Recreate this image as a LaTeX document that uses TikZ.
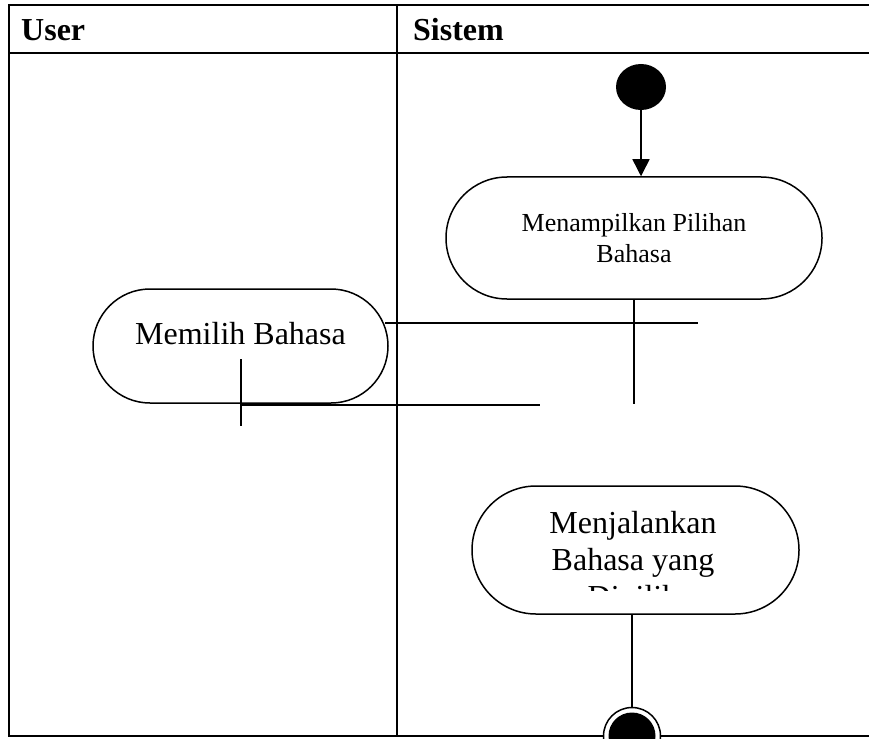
\documentclass[tikz,border=0pt]{standalone}
\usepackage{fontspec}
\setmainfont{Liberation Serif}
\usetikzlibrary{shapes.misc,shapes.geometric,arrows.meta}
\begin{document}
\begin{tikzpicture}[x=1pt,y=-1pt,
  frame/.style={line width=1.5pt},
  flow/.style={line width=1.5pt},
  act/.style={draw, line width=1.5pt, rounded rectangle, inner sep=0pt, align=center},
  hdr/.style={font=\fontsize{32}{36}\selectfont\bfseries, anchor=base west, inner sep=0pt},
  small/.style={font=\fontsize{26}{31}\selectfont},
  big/.style={font=\fontsize{32}{37}\selectfont}]
\clip (0,0) rectangle (869,738);
\fill[white] (0,0) rectangle (869,738);

% swimlane frame
\draw[frame] (880,5) -- (9,5) -- (9,736) -- (880,736);
\draw[frame] (9,53) -- (880,53);
\draw[frame] (397,5) -- (397,736);
\node[hdr] (laneuser) at (21,41) {User};
\node[hdr] (lanesys) at (413,41) {Sistem};

% initial and final states
\node[ellipse, fill=black, minimum width=50pt, minimum height=46pt, inner sep=0pt] (start) at (641,87) {};
\node[circle, draw, line width=1.5pt, fill=white, minimum size=57pt, inner sep=0pt] (fin) at (632,736) {};
\fill (fin.center) circle[radius=23.5];

% activities
\node[act, small, minimum width=376pt, minimum height=122pt] (show) at (634,238)
  {Menampilkan Pilihan\\Bahasa};
\node[act, big, minimum width=295pt, minimum height=114pt, text height=22pt, text depth=26pt]
  (pick) at (240.5,346) {Memilih Bahasa};
\node[act, minimum width=327pt, minimum height=128pt] (run) at (635.5,550) {};
\begin{scope}
  \clip (470,480) rectangle (802,590);
  \node[big, align=center, anchor=north, inner sep=0pt] (runtext) at (633,511)
    {Menjalankan\\Bahasa yang\\Dipilih};
\end{scope}

% flow lines
\coordinate (p1) at (385,323);
\coordinate (p2) at (698,323);
\coordinate (q1) at (634,404);
\coordinate (r1) at (241,405);
\coordinate (r2) at (540,405);
\coordinate (s1) at (241,359);
\coordinate (s2) at (241,426);

\draw[flow, -{Triangle[width=17pt,length=17pt]}] (start.south) -- (start.south |- show.north);
\draw[flow] (p1) -- (p2);
\draw[flow] (show.south) -- (q1);
\draw[flow] (r1) -- (r2);
\draw[flow] (s1) -- (s2);
\draw[flow] (run.south -| fin.north) -- (fin.north);
\end{tikzpicture}
\end{document}
